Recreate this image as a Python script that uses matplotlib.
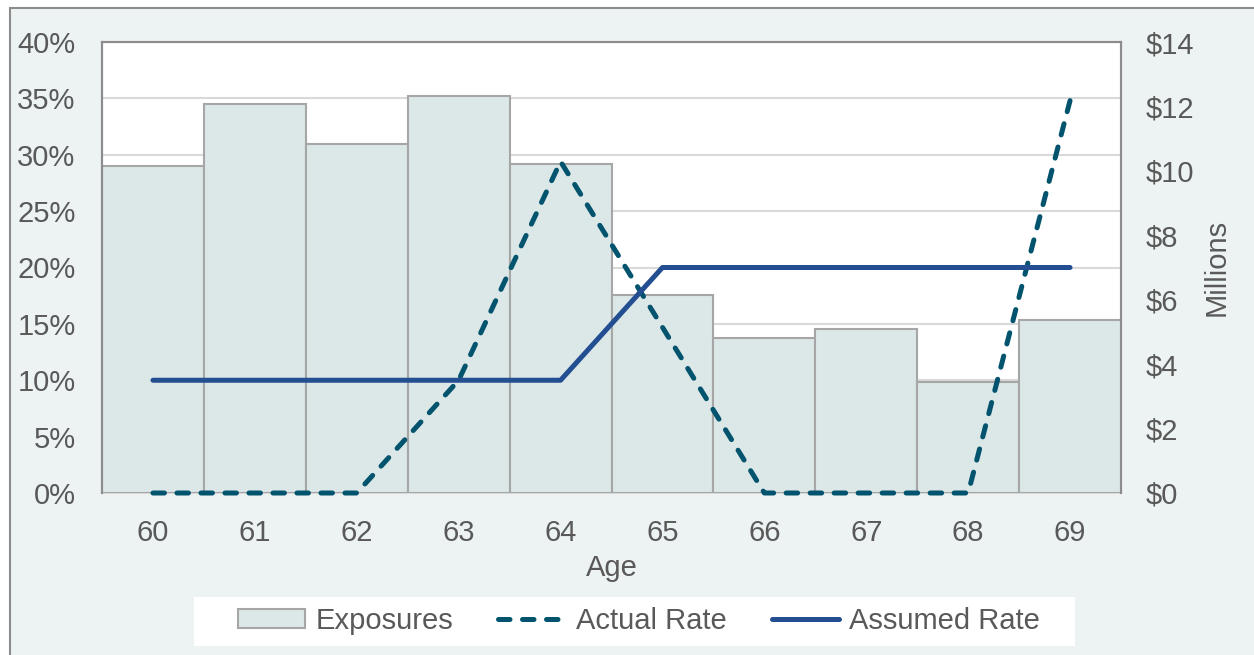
import matplotlib.pyplot as plt
from matplotlib.patches import Rectangle, Patch
from matplotlib.lines import Line2D
from matplotlib.ticker import FuncFormatter

plt.rcParams['font.family'] = ['Liberation Sans', 'DejaVu Sans']

# data
ages = [60, 61, 62, 63, 64, 65, 66, 67, 68, 69]
exposures = [10.15, 12.08, 10.84, 12.33, 10.22, 6.15, 4.81, 5.09, 3.45, 5.37]  # $ millions
actual_rate = [0.0, 0.0, 0.0, 10.0, 29.4, 14.7, 0.0, 0.0, 0.0, 34.8]  # %
assumed_rate = [10, 10, 10, 10, 10, 20, 20, 20, 20, 20]  # %

text_col = '#595959'
fs = 21
W, H = 1254, 655

fig = plt.figure(figsize=(W / 100, H / 100), dpi=100)
fig.patch.set_facecolor('white')
# panel background with border
fig.add_artist(Rectangle((10 / W, -0.05), 1.1, (H - 8) / H + 0.05, transform=fig.transFigure,
                         facecolor='#EDF3F3', edgecolor='#8C8C8C', linewidth=1.5, zorder=0))
# white legend box
fig.add_artist(Rectangle((194 / W, (H - 646) / H), (1075 - 194) / W, 49 / H,
                         transform=fig.transFigure, facecolor='white', edgecolor='none', zorder=0.5))

ax = fig.add_axes([102 / W, (H - 493) / H, (1121 - 102) / W, (493 - 42) / H])
ax2 = ax.twinx()
ax.set_zorder(1)
ax2.set_zorder(2)
ax2.patch.set_visible(False)

x = list(range(len(ages)))

# left axis: percentages (grid), right axis: millions
ax.set_ylim(0, 40)
ax.set_yticks(range(0, 41, 5))
ax.yaxis.set_major_formatter(FuncFormatter(lambda v, p: f'{v:.0f}%'))
ax.grid(axis='y', color='#D9D9D9', linewidth=1.5)
ax.set_axisbelow(True)

ax2.set_ylim(0, 14)
ax2.set_yticks(range(0, 15, 2))
ax2.yaxis.set_major_formatter(FuncFormatter(lambda v, p: f'${v:.0f}'))

# bars scaled to the right axis, drawn between grid and lines
axb = fig.add_axes(ax.get_position(), sharex=ax)
axb.set_zorder(1.5)
axb.patch.set_visible(False)
axb.set_ylim(0, 14)
axb.bar(x, exposures, width=1.0, color='#DCE7E7', edgecolor='#A6A6A6', linewidth=1.5)
axb.axis('off')

ax2.plot(x, actual_rate, color='#02536D', linewidth=3.6, linestyle=(0, (2.3, 2.5)),
         dash_capstyle='round', transform=ax.transData, clip_on=False, zorder=5)
ax2.plot(x, assumed_rate, color='#234F92', linewidth=3.6, solid_capstyle='round',
         transform=ax.transData, clip_on=False, zorder=5)

ax.set_xlim(-0.5, 9.5)
ax.set_xticks(x)
ax.set_xticklabels([str(a) for a in ages])
ax.set_xlabel('Age', fontsize=fs, color=text_col, labelpad=5)
ax2.set_ylabel('Millions', fontsize=fs, color=text_col, labelpad=6)

for a in (ax, ax2):
    a.tick_params(length=0, labelsize=fs, labelcolor=text_col)
    for s in ('top', 'left', 'right'):
        a.spines[s].set_color('#8C8C8C')
        a.spines[s].set_linewidth(1.5)
    a.spines['bottom'].set_color('#D9D9D9')
    a.spines['bottom'].set_linewidth(1.5)
ax2.spines['bottom'].set_visible(False)
ax.tick_params(axis='y', pad=19)
ax.tick_params(axis='x', pad=19)
ax2.tick_params(axis='y', pad=18)

handles = [
    Patch(facecolor='#DCE7E7', edgecolor='#A6A6A6', linewidth=1.5),
    Line2D([], [], color='#02536D', linewidth=3.6, linestyle=(0, (2.3, 2.5)), dash_capstyle='round'),
    Line2D([], [], color='#234F92', linewidth=3.6, solid_capstyle='round'),
]
leg = fig.legend(handles, ['Exposures', 'Actual Rate', 'Assumed Rate'], ncol=3,
                 loc='center', bbox_to_anchor=(639 / W, (H - 621) / H), frameon=False,
                 fontsize=fs, labelcolor=text_col, handlelength=2.3, handletextpad=0.35,
                 columnspacing=1.55, handleheight=0.6)

fig.savefig('out.png', dpi=100)
